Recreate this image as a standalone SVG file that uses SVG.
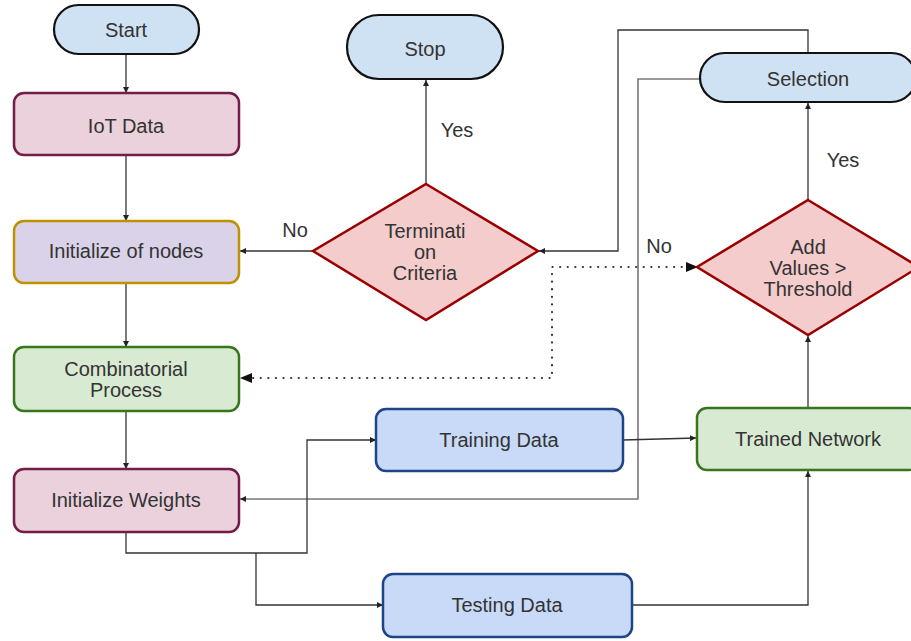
<svg xmlns="http://www.w3.org/2000/svg" width="911" height="641" viewBox="0 0 911 641">
<defs>
<style>
text{font-family:"Liberation Sans",Arial,sans-serif;font-size:20px;fill:#333;text-anchor:middle}
.c{fill:none;stroke:#333;stroke-width:1.3}
.g{fill:none;stroke:#777;stroke-width:1.6}
.d{fill:none;stroke:#333;stroke-width:2.2;stroke-dasharray:0.1 7.5;stroke-linecap:round}
.term{fill:#cfe2f3;stroke:#111;stroke-width:2.2}
.pink{fill:#ead1dc;stroke:#741b47;stroke-width:2.5}
.lav{fill:#d9d2e9;stroke:#bf9000;stroke-width:2.5}
.grn{fill:#d9ead3;stroke:#38761d;stroke-width:2.5}
.blu{fill:#c9daf8;stroke:#1c4587;stroke-width:2.5}
.dia{fill:#f4cccc;stroke:#990000;stroke-width:2.5}
</style>
<marker id="a" markerWidth="6" markerHeight="6" refX="6" refY="3" orient="auto" markerUnits="userSpaceOnUse"><path d="M0,0 L6,3 L0,6 z" fill="#222"/></marker>
<marker id="b" markerWidth="12" markerHeight="10" refX="11" refY="5" orient="auto-start-reverse" markerUnits="userSpaceOnUse"><path d="M0,0 L12,5 L0,10 z" fill="#111"/></marker>
</defs>

<g id="connectors">
<path class="c" d="M126 54 V93" marker-end="url(#a)"/>
<path class="c" d="M126 155 V221" marker-end="url(#a)"/>
<path class="c" d="M126 283 V347" marker-end="url(#a)"/>
<path class="c" d="M126 411 V469" marker-end="url(#a)"/>
<path class="c" d="M426 184 V80" marker-end="url(#a)"/>
<path class="c" d="M313 251 H240" marker-end="url(#a)"/>
<path class="c" d="M808 53 V30 H618 V251 H539" marker-end="url(#a)"/>
<path class="g" d="M700 79 H638 V499 H240" marker-end="url(#a)"/>
<path class="c" d="M126 532 V553 H307 V440 H376" marker-end="url(#a)"/>
<path class="c" d="M256 553 V605 H383" marker-end="url(#a)"/>
<path class="c" d="M623 440 L696 438" marker-end="url(#a)"/>
<path class="c" d="M632 605 H808 V471" marker-end="url(#a)"/>
<path class="c" d="M808 408 V336" marker-end="url(#a)"/>
<path class="c" d="M808 200 V103" marker-end="url(#a)"/>
<path class="d" d="M697 267 H552 V378 H241" marker-start="url(#b)" marker-end="url(#b)"/>
<text x="457" y="137">Yes</text>
<text x="295" y="237">No</text>
<text x="843" y="167">Yes</text>
<text x="659" y="253">No</text>
</g>

<g id="start"><rect class="term" x="54" y="5" width="145" height="49" rx="24.5"/><text x="126" y="37">Start</text></g>
<g id="iot"><rect class="pink" x="14" y="93" width="225" height="62" rx="10"/><text x="126" y="133">IoT Data</text></g>
<g id="initnodes"><rect class="lav" x="14" y="221" width="225" height="62" rx="10"/><text x="126" y="258">Initialize of nodes</text></g>
<g id="comb"><rect class="grn" x="14" y="347" width="225" height="64" rx="10"/><text x="126" y="376">Combinatorial</text><text x="126" y="397">Process</text></g>
<g id="initweights"><rect class="pink" x="14" y="469" width="225" height="63" rx="10"/><text x="126" y="507">Initialize Weights</text></g>
<g id="stop"><rect class="term" x="347" y="15" width="156" height="64" rx="32"/><text x="425" y="56">Stop</text></g>
<g id="termination"><polygon class="dia" points="426,184 538,251 426,320 313,251"/><text x="425" y="238">Terminati</text><text x="425" y="259">on</text><text x="425" y="280">Criteria</text></g>
<g id="selection"><rect class="term" x="700" y="53" width="216" height="49" rx="24.5"/><text x="808" y="86">Selection</text></g>
<g id="addvalues"><polygon class="dia" points="808,200 919,267 808,335 697,267"/><text x="808" y="254">Add</text><text x="808" y="275">Values &gt;</text><text x="808" y="296">Threshold</text></g>
<g id="training"><rect class="blu" x="376" y="409" width="247" height="62" rx="10"/><text x="499" y="447">Training Data</text></g>
<g id="trained"><rect class="grn" x="697" y="408" width="222" height="62" rx="10"/><text x="808" y="446">Trained Network</text></g>
<g id="testing"><rect class="blu" x="383" y="574" width="249" height="63" rx="10"/><text x="507" y="612">Testing Data</text></g>
</svg>
